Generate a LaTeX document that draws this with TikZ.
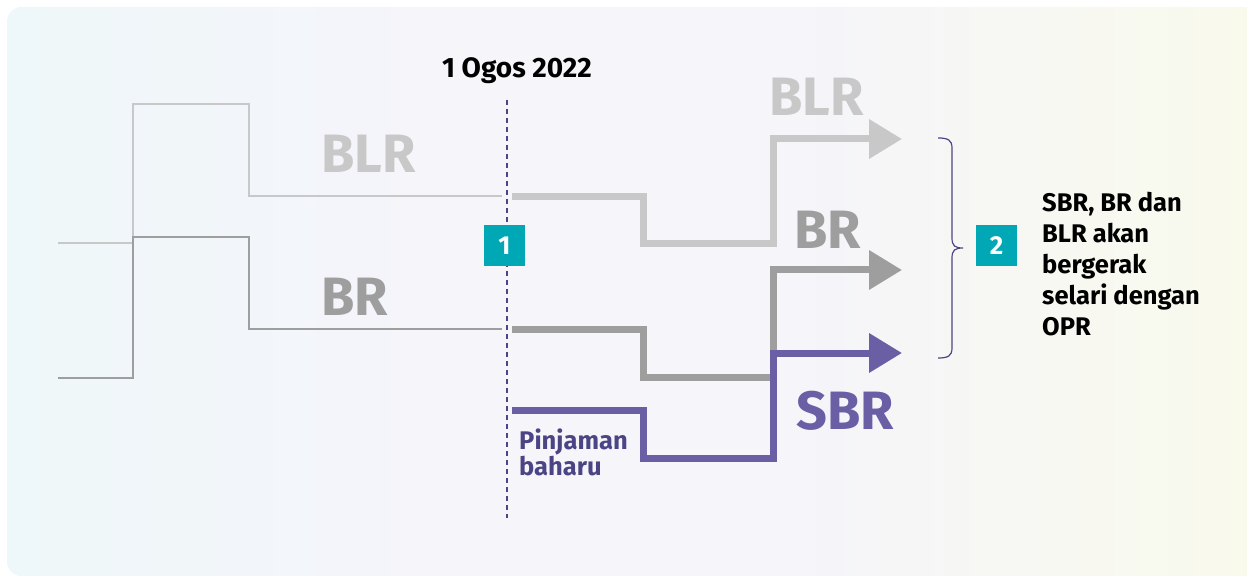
\documentclass[tikz,border=0pt]{standalone}
\usepackage{fontspec}
\setmainfont{Fira Sans}
\usetikzlibrary{arrows.meta}
\definecolor{lightg}{HTML}{C8C8C8}
\definecolor{midg}{HTML}{9E9E9E}
\definecolor{sbrc}{HTML}{6A5FA5}
\definecolor{darkp}{HTML}{4B4585}
\definecolor{tealc}{HTML}{00A8B5}
\definecolor{bgl}{HTML}{EEF7F9}
\definecolor{bgm}{HTML}{F5F5FA}
\definecolor{bgr}{HTML}{F9FAEC}
\tikzset{
  thinline/.style={line width=2.2pt, line join=miter},
  thickline/.style={line width=7pt, line join=miter, -{Triangle[length=33pt,width=38pt]}},
  biglabel/.style={font=\fontsize{54}{54}\selectfont\bfseries, inner sep=0pt, anchor=base west},
  numbox/.style={fill=tealc, text=white, minimum width=41pt, minimum height=41pt, inner sep=0pt, font=\fontsize{26}{26}\selectfont\bfseries},
  note/.style={font=\fontsize{25.5}{31}\selectfont\bfseries, inner sep=0pt, align=left}
}
\begin{document}
\begin{tikzpicture}[x=1pt,y=-1pt]
\useasboundingbox (0,0) rectangle (1247,577);
\begin{scope}
\clip[rounded corners=15pt] (7,7) rectangle (1262,576);
\fill[bgm] (7,7) rectangle (1262,576);
\shade[left color=bgl, right color=bgm] (6,6) rectangle (420,577);
\shade[left color=bgm, right color=bgr] (800,6) rectangle (1248,577);
\end{scope}

% old thin lines
\draw[thinline, lightg] (58,243) -- (133,243) -- (133,104) -- (249,104) -- (249,196) -- (502,196);
\draw[thinline, midg] (58,378) -- (133,378) -- (133,237) -- (249,237) -- (249,329) -- (502,329);

% dashed date line
\coordinate (dtop) at (507,100);
\coordinate (dbot) at (507,518);
\draw[darkp, line width=1.5pt, dash pattern=on 5pt off 4pt] (dtop) -- (dbot);
\node[font=\fontsize{28}{28}\selectfont\bfseries, anchor=base] (date) at (517,78) {1 Ogos 2022};

% thick new lines
\draw[thickline, lightg] (512,197) -- (643,197) -- (643,244) -- (773,244) -- (773,139) -- (902,139);
\draw[thickline, midg] (512,329) -- (643,329) -- (643,377) -- (773,377) -- (773,270) -- (902,270);
\draw[thickline, sbrc] (512,410) -- (643,410) -- (643,458) -- (773,458) -- (773,353) -- (902,353);

% labels
\node[biglabel, lightg] (blrL) at (321,173) {BLR};
\node[biglabel, midg] (brL) at (321,315) {BR};
\node[biglabel, lightg] (blrR) at (769,116) {BLR};
\node[biglabel, midg] (brR) at (794,249) {BR};
\node[biglabel, sbrc] (sbrR) at (796,429) {SBR};
\node[note, darkp, anchor=north west, font=\fontsize{25.5}{26}\selectfont\bfseries] (pin) at (519,429) {Pinjaman\\baharu};

% number boxes
\node[numbox] (n1) at (504.5,245.5) {1};
\node[numbox] (n2) at (996.5,245.5) {2};

% brace
\draw[darkp, line width=1.2pt] (938,138) .. controls (948,138) and (952,140) .. (952,148) -- (952,238) .. controls (952,246) and (955,248) .. (963,248)
  .. controls (955,248) and (952,250) .. (952,258) -- (952,348) .. controls (952,356) and (948,358) .. (938,358);

\node[note, anchor=north west] (txt) at (1042,192) {SBR, BR dan\\BLR akan\\bergerak\\selari dengan\\OPR};
\end{tikzpicture}
\end{document}
